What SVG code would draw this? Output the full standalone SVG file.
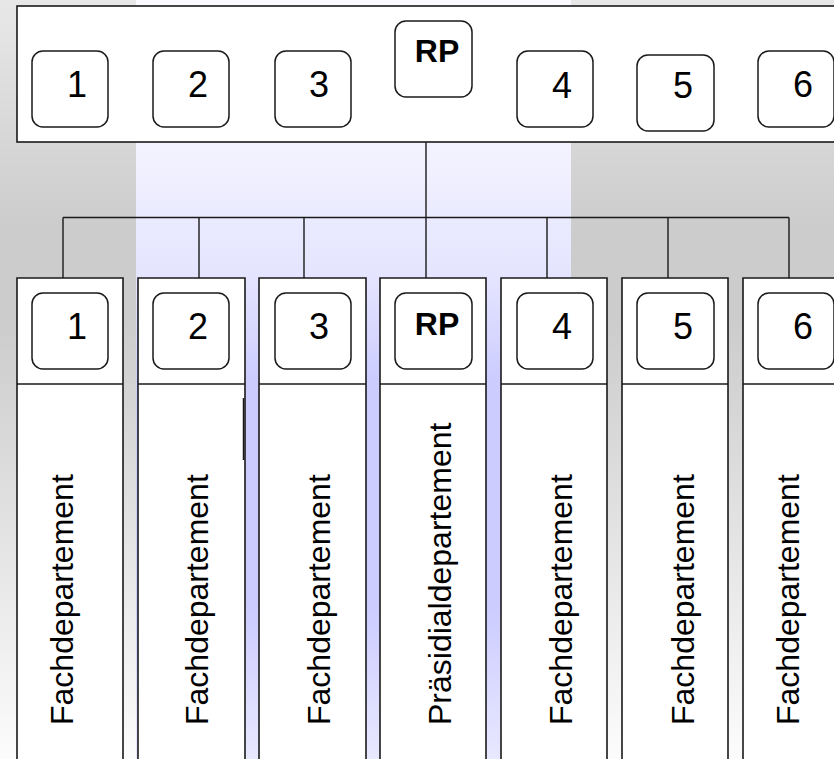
<svg xmlns="http://www.w3.org/2000/svg" width="834" height="759" viewBox="0 0 834 759">
<defs>
<linearGradient id="gGray" x1="0" y1="0" x2="0" y2="1">
<stop offset="0" stop-color="#e8e8e8"/>
<stop offset="0.3" stop-color="#cccccc"/>
<stop offset="0.42" stop-color="#cccccc"/>
<stop offset="1" stop-color="#fcfcfc"/>
</linearGradient>
<linearGradient id="gBlue" x1="0" y1="0" x2="0" y2="1">
<stop offset="0" stop-color="#fafaff"/>
<stop offset="0.2" stop-color="#f2f2ff"/>
<stop offset="0.37" stop-color="#e4e4ff"/>
<stop offset="0.5" stop-color="#ccccff"/>
<stop offset="0.8" stop-color="#ccccff"/>
<stop offset="1" stop-color="#e8e8ff"/>
</linearGradient>
</defs>
<style>
.frame{fill:#ffffff;stroke:#1a1a1a;stroke-width:1.6}
.col{fill:#ffffff;stroke:none}
.edge{fill:none;stroke:#1a1a1a;stroke-width:1.6}
.box{fill:#ffffff;stroke:#1a1a1a;stroke-width:1.5}
.num{font-family:"Liberation Sans",Arial,sans-serif;font-size:36px;fill:#000;text-anchor:middle}
.rp{font-family:"Liberation Sans",Arial,sans-serif;font-size:32px;font-weight:bold;fill:#000;text-anchor:middle}
.vt{font-family:"Liberation Sans",Arial,sans-serif;font-size:32px;fill:#000}
.conn{fill:none;stroke:#1a1a1a;stroke-width:1.4}
</style>
<rect x="0" y="0" width="834" height="759" fill="url(#gGray)"/>
<rect x="136" y="0" width="435" height="759" fill="url(#gBlue)"/>

<g id="top">
<rect class="frame" x="17" y="6" width="830" height="136"/>
<g id="t1"><rect class="box" x="32" y="51" width="76" height="76" rx="11"/><text class="num" x="77" y="97">1</text></g>
<g id="t2"><rect class="box" x="153" y="51" width="76" height="76" rx="11"/><text class="num" x="198" y="97">2</text></g>
<g id="t3"><rect class="box" x="275" y="51" width="76" height="76" rx="11"/><text class="num" x="319" y="97">3</text></g>
<g id="tRP"><rect class="box" x="395" y="21" width="77" height="76" rx="11"/><text class="rp" x="437" y="62">RP</text></g>
<g id="t4"><rect class="box" x="517" y="51" width="76" height="76" rx="11"/><text class="num" x="562" y="98">4</text></g>
<g id="t5"><rect class="box" x="637" y="55" width="77" height="76" rx="11"/><text class="num" x="683" y="98">5</text></g>
<g id="t6"><rect class="box" x="758" y="51" width="76" height="76" rx="11"/><text class="num" x="803" y="97">6</text></g>
</g>

<g id="connectors">
<path class="conn" d="M426 142 V217.5 M63 217.5 H789 M63 217.5 V278 M199 217.5 V278 M304 217.5 V278 M426 217.5 V278 M547 217.5 V278 M668 217.5 V278 M789 217.5 V278"/>
</g>

<g id="c1">
<rect class="col" x="17" y="278" width="106" height="481"/>
<path class="edge" d="M17 759 V278 H123 V759 M17 384 H123"/>
<rect class="box" x="32" y="293" width="76" height="76" rx="11"/><text class="num" x="77" y="339">1</text>
<text class="vt" transform="translate(73,725) rotate(-90)">Fachdepartement</text>
</g>
<g id="c2">
<rect class="col" x="138" y="278" width="107" height="481"/>
<path class="edge" d="M138 759 V278 H245 V759 M138 384 H245"/>
<line x1="243.5" y1="398" x2="243.5" y2="460" stroke="#1a1a1a" stroke-width="1.5"/>
<rect class="box" x="153" y="293" width="76" height="76" rx="11"/><text class="num" x="198" y="339">2</text>
<text class="vt" transform="translate(208,725) rotate(-90)">Fachdepartement</text>
</g>
<g id="c3">
<rect class="col" x="259" y="278" width="107" height="481"/>
<path class="edge" d="M259 759 V278 H366 V759 M259 384 H366"/>
<rect class="box" x="275" y="293" width="76" height="76" rx="11"/><text class="num" x="319" y="339">3</text>
<text class="vt" transform="translate(330,725) rotate(-90)">Fachdepartement</text>
</g>
<g id="cRP">
<rect class="col" x="380" y="278" width="106" height="481"/>
<path class="edge" d="M380 759 V278 H486 V759 M380 384 H486"/>
<rect class="box" x="395" y="293" width="77" height="76" rx="11"/><text class="rp" x="437" y="335">RP</text>
<text class="vt" transform="translate(451,725) rotate(-90)">Präsidialdepartement</text>
</g>
<g id="c4">
<rect class="col" x="501" y="278" width="106" height="481"/>
<path class="edge" d="M501 759 V278 H607 V759 M501 384 H607"/>
<rect class="box" x="517" y="293" width="76" height="76" rx="11"/><text class="num" x="562" y="339">4</text>
<text class="vt" transform="translate(572,725) rotate(-90)">Fachdepartement</text>
</g>
<g id="c5">
<rect class="col" x="622" y="278" width="106" height="481"/>
<path class="edge" d="M622 759 V278 H728 V759 M622 384 H728"/>
<rect class="box" x="637" y="293" width="77" height="76" rx="11"/><text class="num" x="683" y="339">5</text>
<text class="vt" transform="translate(694,725) rotate(-90)">Fachdepartement</text>
</g>
<g id="c6">
<rect class="col" x="743" y="278" width="100" height="481"/>
<path class="edge" d="M743 759 V278 H843 M743 384 H843"/>
<rect class="box" x="758" y="293" width="76" height="76" rx="11"/><text class="num" x="803" y="339">6</text>
<text class="vt" transform="translate(799,725) rotate(-90)">Fachdepartement</text>
</g>
</svg>
